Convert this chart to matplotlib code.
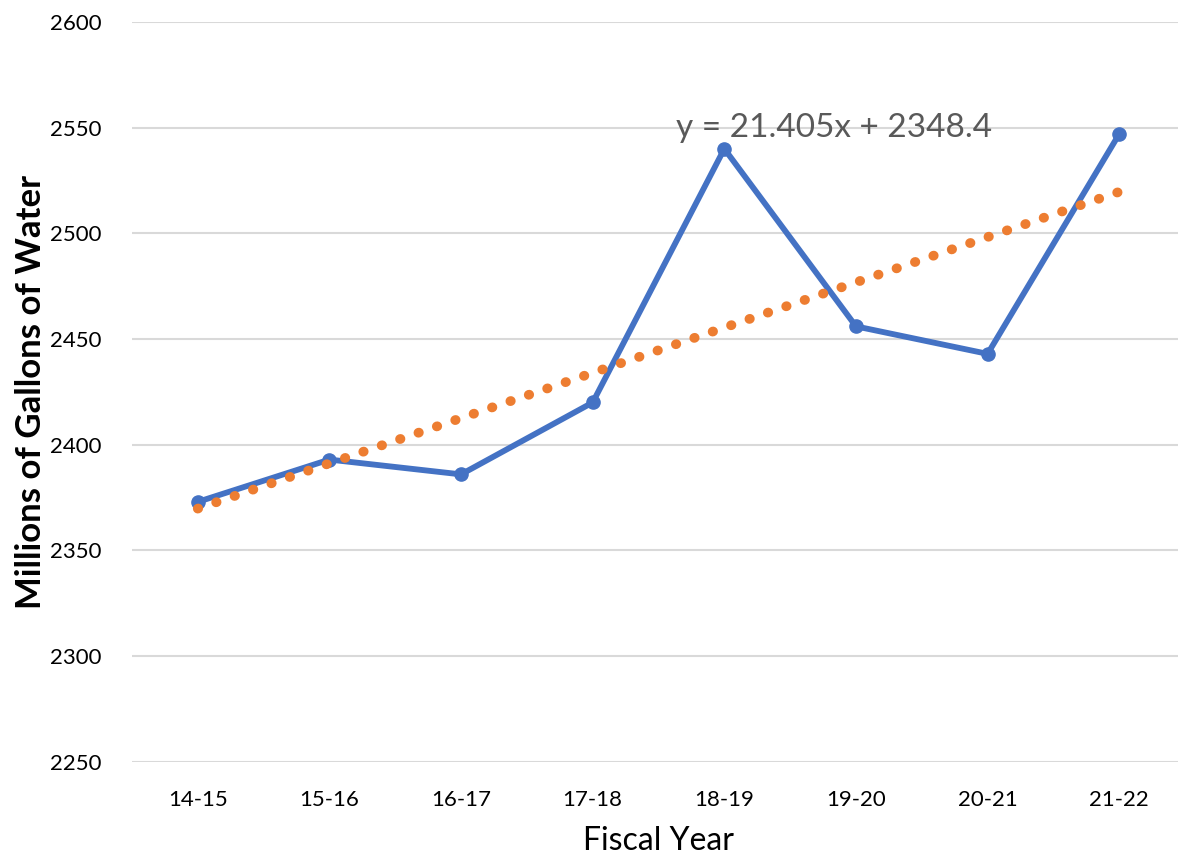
import numpy as np
import matplotlib
matplotlib.use('Agg')
from matplotlib import pyplot as plt

plt.rcParams['font.family'] = ['Lato', 'DejaVu Sans']

years = ['14-15', '15-16', '16-17', '17-18', '18-19', '19-20', '20-21', '21-22']
gallons = [2373, 2393, 2386, 2420, 2540, 2456, 2443, 2547]
slope, intercept = 21.405, 2348.4

x = np.arange(1, len(years) + 1)
trend = slope * x + intercept

fig = plt.figure(figsize=(11.78, 8.59), dpi=100)
ax = fig.add_axes([0.112, 0.113, 0.894, 0.8615])

ax.plot(x, gallons, color='#4472C4', lw=4.2, marker='o', ms=9.5,
        solid_joinstyle='round', zorder=3)
ax.plot(x, trend, color='#ED7D31', lw=7, linestyle=(0, (0.05, 1.95)),
        dash_capstyle='round', zorder=4)

# trendline equation, sits behind the series
ax.text(4.63, 2550, 'y = 21.405x + 2348.4', fontsize=24,
        color='#595959', va='center', ha='left', zorder=2)

ax.set_xlim(0.5, 8.5)
ax.set_ylim(2250, 2600)
ax.set_yticks(np.arange(2250, 2601, 50))
ax.set_xticks(x)
ax.set_xticklabels(years)
ax.grid(axis='y', color='#D9D9D9', lw=1.5)
ax.set_axisbelow(True)
for s in ax.spines.values():
    s.set_visible(False)
ax.tick_params(length=0, labelsize=16, colors='#000000')
ax.tick_params(axis='y', pad=22)
ax.tick_params(axis='x', pad=20)

ax.set_xlabel('Fiscal Year', fontsize=23, labelpad=12)
ax.set_ylabel('Millions of Gallons of Water', fontsize=25, fontweight='bold', labelpad=2)

fig.savefig('out.png', dpi=100)
